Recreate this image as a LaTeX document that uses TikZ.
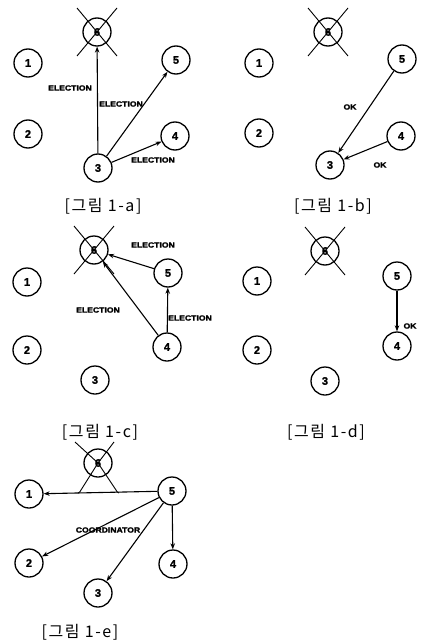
\documentclass[tikz,border=0pt]{standalone}
\usepackage{fontspec}
\setmainfont{Liberation Sans}
\newfontfamily\krfont[LetterSpace=10]{Noto Sans CJK KR}
\newfontfamily\labfont[FakeStretch=1.15,FakeBold=2]{Liberation Sans Bold}
\newfontfamily\digfont[FakeBold=1.5]{Liberation Sans Bold}
\usetikzlibrary{arrows.meta,calc}
\tikzset{
  proc/.style={circle, draw, line width=1.3pt, minimum size=28pt, inner sep=0pt,
    font=\digfont\fontsize{11}{11}\selectfont},
  dead/.style={proc},
  msg/.style={-{Stealth[length=6pt,width=4.5pt]}, line width=1.1pt},
  lab/.style={font=\labfont\fontsize{7.5}{7.5}\selectfont, inner sep=0.5pt},
  captext/.style={font=\krfont\fontsize{16}{16}\selectfont},
  crossline/.style={line width=0.9pt}
}
\newcommand{\crossed}[1]{%
  \draw[crossline] ($(#1)+(-20,-24)$) -- ($(#1)+(20,24)$);
  \draw[crossline] ($(#1)+(20,-24)$) -- ($(#1)+(-20,24)$);
}
\begin{document}
\begin{tikzpicture}[x=1pt,y=-1pt]
\useasboundingbox (0,0) rectangle (421,642);
% ---------- panel a
\node[dead] (a6) at (97,32) {6};
\crossed{a6}
\node[proc] (a1) at (28,63) {1};
\node[proc] (a2) at (28,134) {2};
\node[proc] (a3) at (98,168) {3};
\node[proc] (a4) at (175,136) {4};
\node[proc] (a5) at (176,60) {5};
\draw[msg] (a3) -- (a6);
\draw[msg] (a3) -- (a5);
\draw[msg] (a3) -- (a4);
\node[lab] (la1) at (70,88) {ELECTION};
\node[lab] (la2) at (121,104) {ELECTION};
\node[lab] (la3) at (153,160) {ELECTION};
\node[captext] (ca) at (103,206) {[그림 1-a]};
% ---------- panel b
\node[dead] (b6) at (328,32) {6};
\crossed{b6}
\node[proc] (b1) at (259,63) {1};
\node[proc] (b2) at (259,133) {2};
\node[proc] (b3) at (330,165) {3};
\node[proc] (b4) at (401,136) {4};
\node[proc] (b5) at (402,59) {5};
\draw[msg] (b5) -- (b3);
\draw[msg] (b4) -- (b3);
\node[lab] (lb1) at (350,107) {OK};
\node[lab] (lb2) at (380,165) {OK};
\node[captext] (cb) at (333,206) {[그림 1-b]};
% ---------- panel c
\node[dead] (c6) at (94,250) {6};
\crossed{c6}
\node[proc] (c1) at (27,282) {1};
\node[proc] (c2) at (27,350) {2};
\node[proc] (c3) at (95,380) {3};
\node[proc] (c4) at (167,347) {4};
\node[proc] (c5) at (168,273) {5};
\draw[msg] (c5) -- (c6);
\draw[msg] (c4) -- (c6);
\draw[msg] (c4) -- (c5);
\node[lab] (lc1) at (153,245) {ELECTION};
\node[lab] (lc2) at (98,310) {ELECTION};
\node[lab] (lc3) at (190,318) {ELECTION};
\node[captext] (cc) at (100,432) {[그림 1-c]};
% ---------- panel d
\node[dead] (d6) at (325,251) {6};
\crossed{d6}
\node[proc] (d1) at (257,281) {1};
\node[proc] (d2) at (257,350) {2};
\node[proc] (d3) at (325,381) {3};
\node[proc] (d4) at (397,346) {4};
\node[proc] (d5) at (397,276) {5};
\draw[msg] (d5) -- (d4);
\node[lab] (ld1) at (410,326) {OK};
\node[captext] (cd) at (326,432) {[그림 1-d]};
% ---------- panel e
\node[dead] (e6) at (98,463) {6};
\draw[crossline] ($(e6)+(-23,-21)$) -- (e6.center) -- ($(e6)+(-17,27)$) to[out=-120,in=10] ($(e6)+(-20,30)$);
\draw[crossline] ($(e6)+(16,-21)$) -- (e6.center) -- ($(e6)+(18,27)$) to[out=-60,in=170] ($(e6)+(21,30)$);
\node[proc] (e1) at (29,494) {1};
\node[proc] (e2) at (29,563) {2};
\node[proc] (e3) at (98,593) {3};
\node[proc] (e4) at (173,564) {4};
\node[proc] (e5) at (172,491) {5};
\draw[msg] (e5) -- (e1);
\draw[msg] (e5) -- (e2);
\draw[msg] (e5) -- (e3);
\draw[msg] (e5) -- (e4);
\node[lab] (le1) at (108,530) {COORDINATOR};
\node[captext] (ce) at (80,632) {[그림 1-e]};
\end{tikzpicture}
\end{document}
